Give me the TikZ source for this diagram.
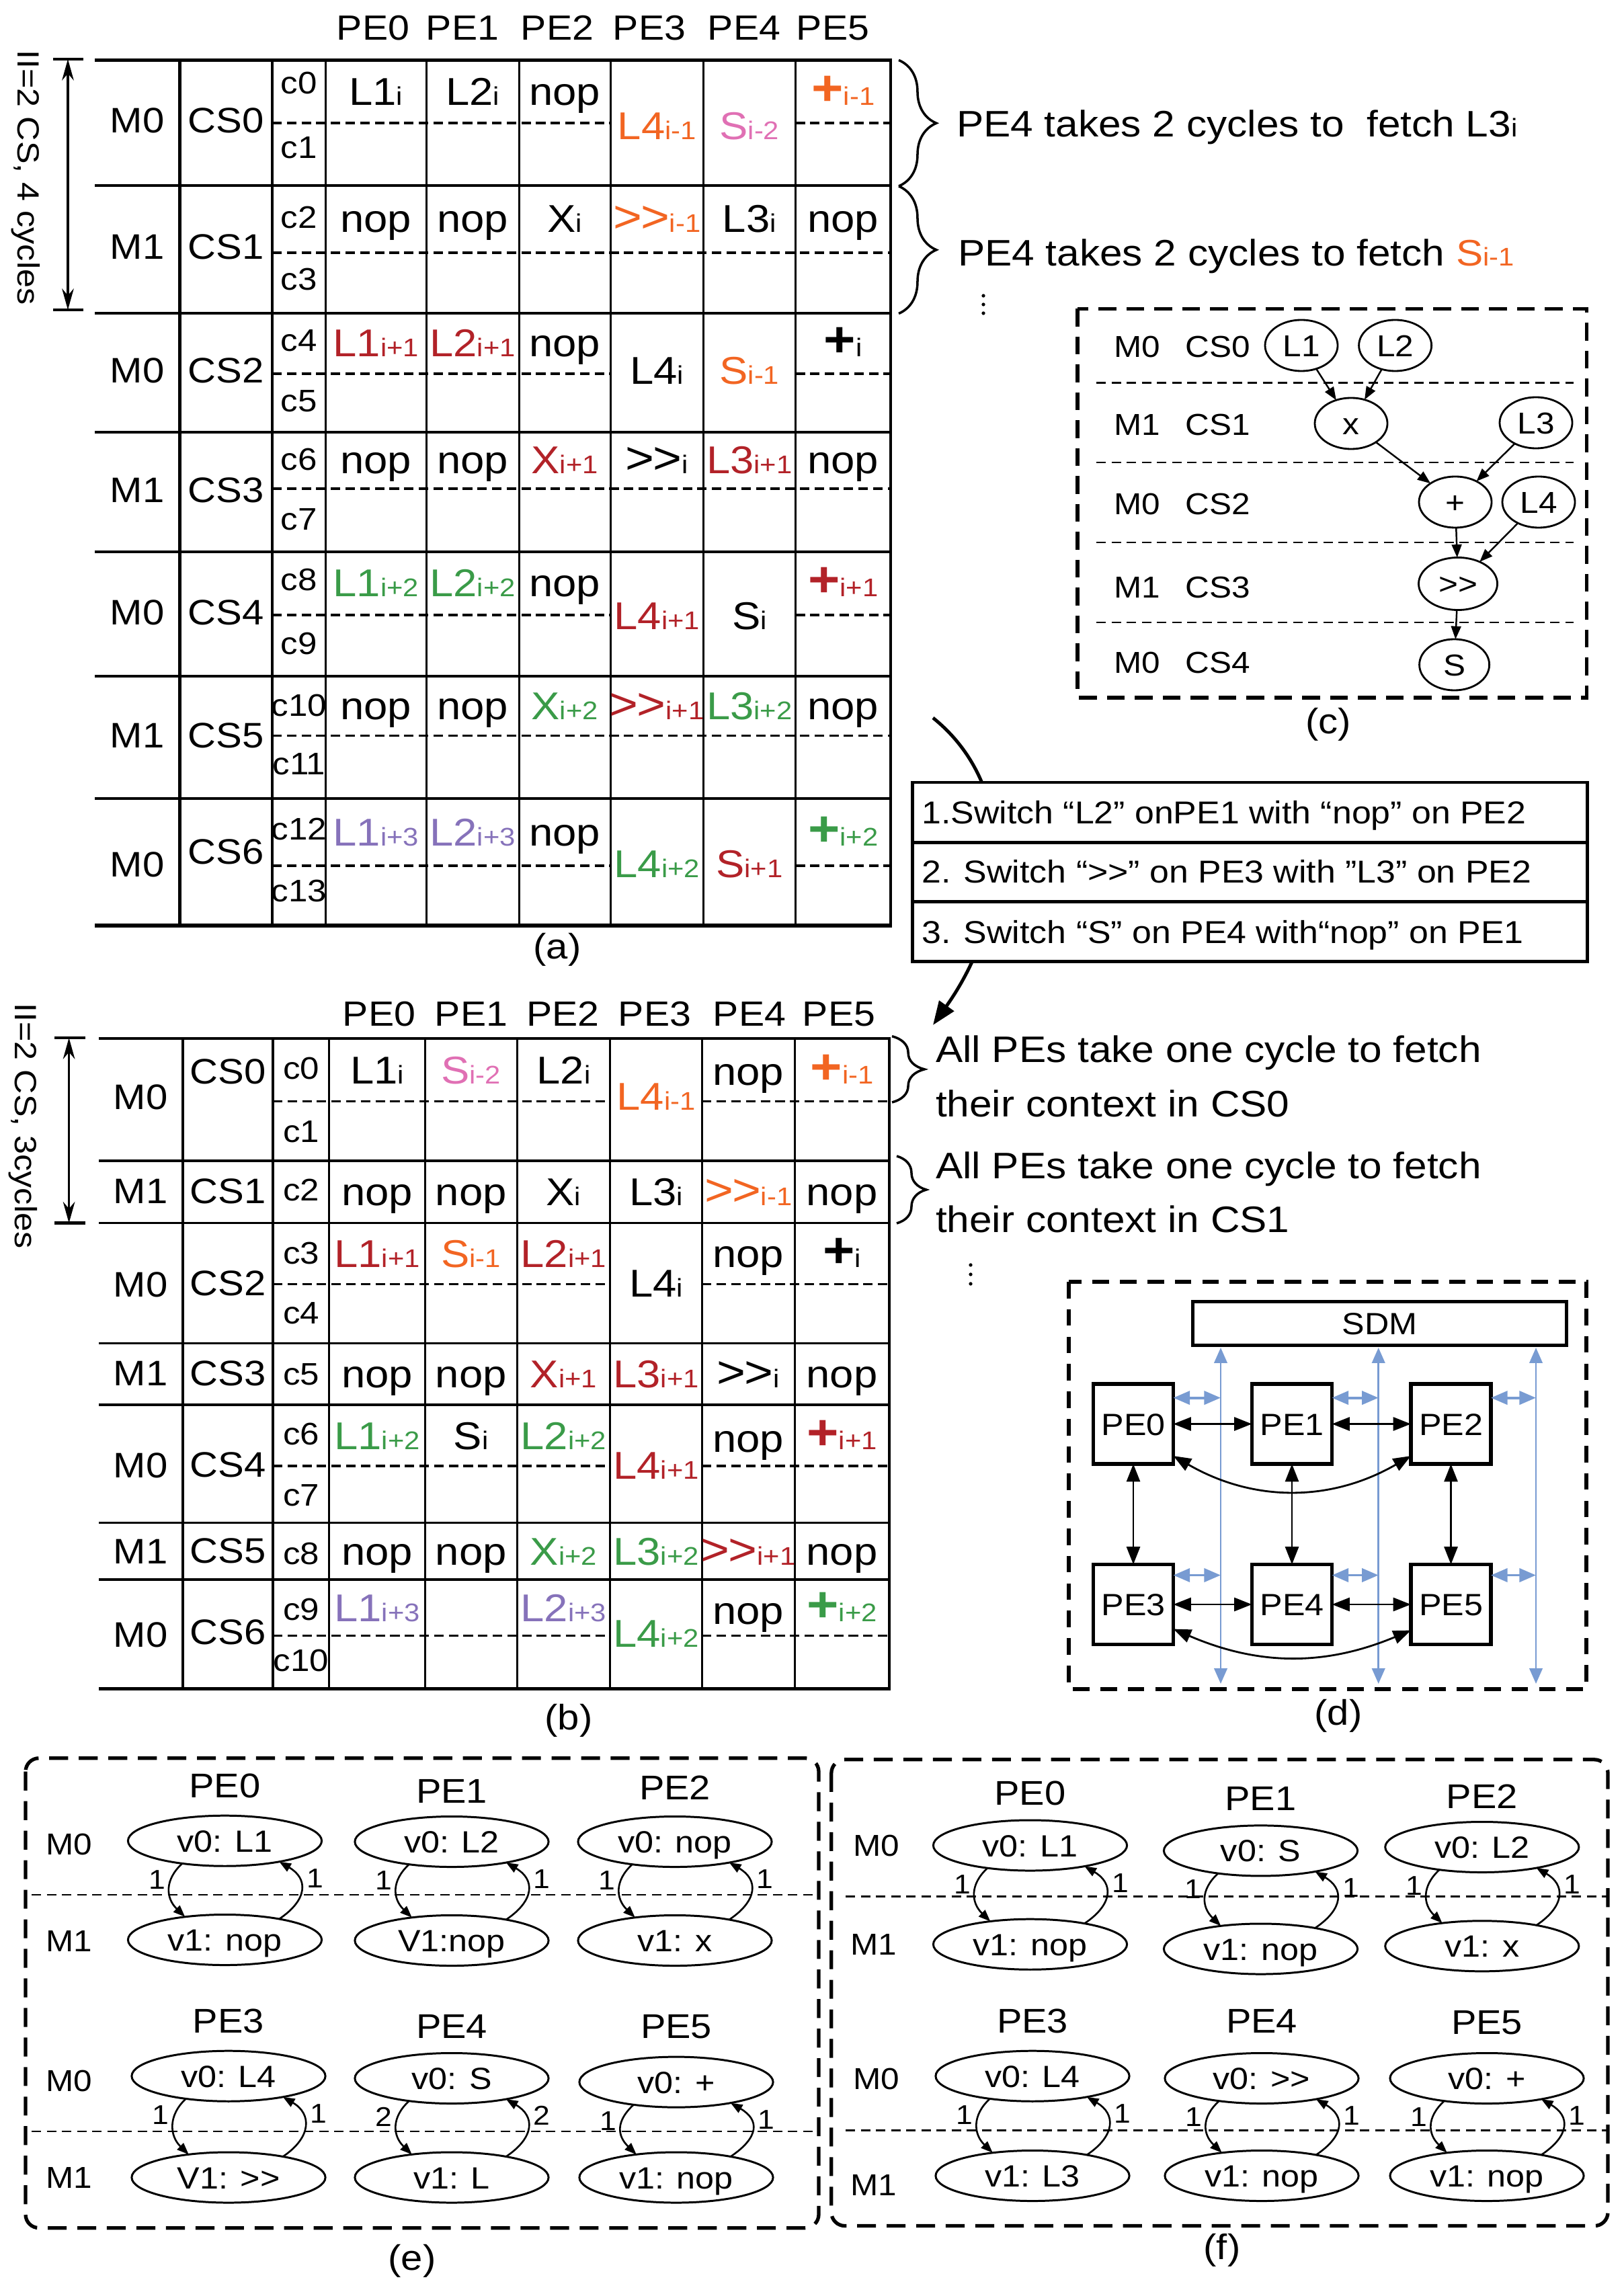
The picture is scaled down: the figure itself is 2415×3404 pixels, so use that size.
\documentclass[tikz,border=0pt]{standalone}
\usepackage{fontspec}
\setmainfont{Liberation Sans}[FakeStretch=1.1]
\usetikzlibrary{arrows.meta,decorations.pathreplacing,shapes.geometric,calc}
\definecolor{orgC}{RGB}{242,101,34}
\definecolor{pnkC}{RGB}{224,112,180}
\definecolor{redC}{RGB}{178,34,40}
\definecolor{grnC}{RGB}{58,155,72}
\definecolor{purC}{RGB}{134,114,186}
\definecolor{bluC}{RGB}{120,155,210}
\newcommand\fsz[1]{\fontsize{#1pt}{#1pt}\selectfont}
\newcommand\Ts[2]{#1{\fsz{10.8}#2}}
\newcommand\shr{>\kern0pt>}
\newcommand\shb{{\fsz{19}>\kern-0.6pt>}}
\newcommand\pls{{\fsz{21}\bfseries+}}
\newcommand\cA[5]{\node[cell,text=#4] (#1) at (#2,#3) {#5};}
\newcommand\pegrp[9]{%
  \node[ptitle] (#1t) at (#2,#3) {#6};
  \node[vell] (#1a) at (#2,#4) {#7};
  \node[vell] (#1b) at (#2,#5) {#8};
  \draw[varr] (#1a.208) .. controls ($(#1a.center)+(-90,58)$) and ($(#1b.center)+(-88,-62)$) .. (#1b.150);
  \draw[varr] (#1b.21) .. controls ($(#1b.center)+(124,-60)$) and ($(#1a.center)+(124,56)$) .. (#1a.-21);
  \node[vnum] (#1l) at ($(#1a.center)+(-101,57)$) {#9};
  \node[vnum] (#1r) at ($(#1a.center)+(134,55)$) {#9};
}
\tikzset{
  every node/.style={inner sep=0pt, outer sep=0pt},
  hdr/.style={anchor=base, font=\fsz{14.8}},
  mlbl/.style={anchor=base, font=\fsz{15}},
  clbl/.style={anchor=base, font=\fsz{13.2}},
  cell/.style={anchor=base, font=\fsz{16.4}},
  thk/.style={line width=1.4pt},
  mdl/.style={line width=1pt},
  thn/.style={line width=0.85pt},
  dsh/.style={line width=0.9pt, dash pattern=on 4pt off 2.2pt},
  dimarr/.style={line width=1pt, {Stealth[length=9pt,width=5pt]}-{Stealth[length=9pt,width=5pt]}},
  brc/.style={decorate, decoration={brace, amplitude=#1}, line width=1pt},
  ann/.style={anchor=base west, font=\fsz{15.6}},
  capt/.style={font=\fsz{15}, text height=0.39cm, text depth=0.1cm},
  cbox/.style={line width=1.6pt, dash pattern=on 7.5pt off 4.3pt},
  csep/.style={line width=0.8pt, dash pattern=on 4pt off 2.4pt},
  ctxt/.style={font=\fsz{12.8}, text height=0.32cm, text depth=0pt},
  cell2/.style={ellipse, draw, line width=0.8pt, minimum width=1.08cm, minimum height=0.76cm, font=\fsz{12.8}, text height=0.32cm, text depth=0pt},
  carr/.style={line width=0.7pt, -{Triangle[length=5.5pt,width=4.2pt]}},
  lbox/.style={draw, fill=white, line width=1.4pt, minimum width=10.03cm, minimum height=0.89cm},
  ltxt/.style={anchor=base west, font=\fsz{13.4}},
  pebox/.style={draw, line width=1.5pt, minimum width=1.19cm, minimum height=1.19cm, font=\fsz{13}, text height=0.33cm, text depth=0pt},
  barr/.style={line width=0.8pt, {Triangle[length=7.5pt,width=5.7pt]}-{Triangle[length=7.5pt,width=5.7pt]}},
  bluv/.style={bluC, line width=0.8pt, {Triangle[length=6.5pt,width=5.5pt]}-{Triangle[length=6.5pt,width=5.5pt]}},
  bluh/.style={bluC, line width=1.1pt, {Triangle[length=7pt,width=5.7pt]}-{Triangle[length=7pt,width=5.7pt]}},
  ebox/.style={line width=1.5pt, dash pattern=on 8pt off 4.5pt, rounded corners=0.2cm},
  ptitle/.style={font=\fsz{14.5}, text height=0.37cm, text depth=0pt},
  vell/.style={ellipse, draw, line width=0.85pt, minimum width=2.88cm, minimum height=0.75cm, font=\fsz{13}, text height=0.33cm, text depth=0pt},
  vnum/.style={font=\fsz{11.5}, text height=0.29cm, text depth=0pt},
  mlab/.style={font=\fsz{12.8}, text height=0.32cm, text depth=0pt},
  varr/.style={line width=0.75pt, -{Triangle[length=5pt,width=3.8pt]}}
}
\begin{document}
\begin{tikzpicture}[x=0.01cm,y=-0.01cm,font=\fsz{15}]
\useasboundingbox (0,0) rectangle (2415,3404);

% ================= (a) =================
\foreach \t/\x [count=\i from 0] in {PE0/555,PE1/688,PE2/829,PE3/966,PE4/1107,PE5/1239}
  \node[hdr] (ah\i) at (\x,60) {\t};
\node[font=\fsz{13}, rotate=-90] (aII) at (38,264) {II=2 CS, 4 cycles};
\coordinate (aArT) at (101,88);
\coordinate (aArB) at (101,461);
\draw[dimarr] (aArT) -- (aArB);
\draw[thk] (79,88) -- (124,88);
\draw[thk] (79,461) -- (124,461);
% rules
\draw[line width=1.4pt] (141,89.5) -- (1327,89.5);
\foreach \y in {276,466,643,821,1006,1188} \draw[mdl] (141,\y) -- (1325,\y);
\draw[line width=1.6pt] (141,1377) -- (1327,1377);
\foreach \x in {267.5,405} \draw[line width=1.3pt] (\x,89.5) -- (\x,1377);
\draw[mdl] (484.5,89.5) -- (484.5,1377);
\foreach \x in {634,772,908.5,1046,1183.6} \draw[thn] (\x,89.5) -- (\x,1377);
\draw[thk] (1325,89.5) -- (1325,1377);
\foreach \y in {376,727,1094.5} \draw[dsh] (405,\y) -- (1325,\y);
\foreach \y in {183,556,915,1288} {\draw[dsh] (405,\y) -- (908.5,\y); \draw[dsh] (1183.6,\y) -- (1325,\y);}
% row labels
\foreach \m/\c/\y/\z [count=\i from 0] in {M0/CS0/198/198,M1/CS1/386/386,M0/CS2/570/570,M1/CS3/748/748,M0/CS4/930/930,M1/CS5/1112/1112,M0/CS6/1304/1285}
  {\node[mlbl] (aM\i) at (204,\y) {\m}; \node[mlbl] (aC\i) at (336,\z) {\c};}
\foreach \y [count=\i from 0] in {140,236,340,432,523,613,700,789,879,973,1065,1152,1249,1341}
  \node[clbl] (ac\i) at (444.75,\y) {c\i};
% cells
\cA{a00}{559.25}{156.3}{black}{\Ts{L1}{i}}
\cA{a01}{703}{156.3}{black}{\Ts{L2}{i}}
\cA{a02}{840.25}{156.3}{black}{nop}
\cA{a03}{977.25}{208}{orgC}{\Ts{L4}{i-1}}
\cA{a04}{1114.8}{208}{pnkC}{\Ts{S}{i-2}}
\cA{a05}{1254.3}{156.3}{orgC}{\Ts{\pls}{i-1}}
\cA{a10}{559.25}{346}{black}{nop}
\cA{a11}{703}{346}{black}{nop}
\cA{a12}{840.25}{346}{black}{\Ts{X}{i}}
\cA{a13}{977.25}{346}{orgC}{\Ts{\shb}{i-1}}
\cA{a14}{1114.8}{346}{black}{\Ts{L3}{i}}
\cA{a15}{1254.3}{346}{black}{nop}
\cA{a20}{559.25}{531}{redC}{\Ts{L1}{i+1}}
\cA{a21}{703}{531}{redC}{\Ts{L2}{i+1}}
\cA{a22}{840.25}{531}{black}{nop}
\cA{a23}{977.25}{572}{black}{\Ts{L4}{i}}
\cA{a24}{1114.8}{572}{orgC}{\Ts{S}{i-1}}
\cA{a25}{1254.3}{531}{black}{\Ts{\pls}{i}}
\cA{a30}{559.25}{705}{black}{nop}
\cA{a31}{703}{705}{black}{nop}
\cA{a32}{840.25}{705}{redC}{\Ts{X}{i+1}}
\cA{a33}{977.25}{705}{black}{\Ts{\shb}{i}}
\cA{a34}{1114.8}{705}{redC}{\Ts{L3}{i+1}}
\cA{a35}{1254.3}{705}{black}{nop}
\cA{a40}{559.25}{888}{grnC}{\Ts{L1}{i+2}}
\cA{a41}{703}{888}{grnC}{\Ts{L2}{i+2}}
\cA{a42}{840.25}{888}{black}{nop}
\cA{a43}{977.25}{937}{redC}{\Ts{L4}{i+1}}
\cA{a44}{1114.8}{937}{black}{\Ts{S}{i}}
\cA{a45}{1254.3}{888}{redC}{\Ts{\pls}{i+1}}
\cA{a50}{559.25}{1070}{black}{nop}
\cA{a51}{703}{1070}{black}{nop}
\cA{a52}{840.25}{1070}{grnC}{\Ts{X}{i+2}}
\cA{a53}{977.25}{1070}{redC}{\Ts{\shb}{i+1}}
\cA{a54}{1114.8}{1070}{grnC}{\Ts{L3}{i+2}}
\cA{a55}{1254.3}{1070}{black}{nop}
\cA{a60}{559.25}{1258}{purC}{\Ts{L1}{i+3}}
\cA{a61}{703}{1258}{purC}{\Ts{L2}{i+3}}
\cA{a62}{840.25}{1258}{black}{nop}
\cA{a63}{977.25}{1305}{grnC}{\Ts{L4}{i+2}}
\cA{a64}{1114.8}{1305}{redC}{\Ts{S}{i+1}}
\cA{a65}{1254.3}{1258}{grnC}{\Ts{\pls}{i+2}}
\node[capt] (capA) at (829,1412) {(a)};
% annotations (a)
\draw[brc=15.9pt] (1337,89.5) -- (1337,277);
\draw[brc=15.9pt] (1337,277) -- (1337,466.5);
\node[ann] (annA1) at (1423,203.4) {PE4 takes 2 cycles to\ \ fetch \Ts{L3}{i}};
\node[ann] (annA2) at (1425,396) {PE4 takes 2 cycles to fetch {\color{orgC}\Ts{S}{i-1}}};
\foreach \y in {440,453,466} \fill (1463,\y) circle[radius=0.75pt];

% ================= (c) =================
\draw[cbox] (1603,459.5) rectangle (2360.5,1038);
\foreach \y in {569.6,688,807,926} \draw[csep] (1631,\y) -- (2341,\y);
\foreach \m/\c/\y [count=\i from 0] in {M0/CS0/515.6,M1/CS1/631,M0/CS2/749,M1/CS3/873,M0/CS4/985.6}
  {\node[ctxt] (cM\i) at (1692,\y) {\m}; \node[ctxt] (cC\i) at (1812,\y) {\c};}
\node[cell2] (cL1) at (1936,514) {L1};
\node[cell2] (cL2) at (2075.6,514) {L2};
\node[cell2] (cX) at (2010,630) {x};
\node[cell2] (cL3) at (2285,629) {L3};
\node[cell2] (cP) at (2165,747) {+};
\node[cell2] (cL4) at (2289,747) {L4};
\node[cell2, minimum width=1.17cm, minimum height=0.78cm] (cSh) at (2169,868.5) {\shr};
\node[cell2, minimum width=1.04cm] (cS) at (2163.6,989) {S};
\draw[carr] (cL1) -- (cX);
\draw[carr] (cL2) -- (cX);
\draw[carr] (cX) -- (cP);
\draw[carr] (cL3) -- (cP);
\draw[carr] (cP) -- (cSh);
\draw[carr] (cL4) -- (cSh);
\draw[carr] (cSh) -- (cS);
\node[capt] (capC) at (1976,1077) {(c)};

% ================= list box + arc =================
\coordinate (arcS) at (1388,1068);
\coordinate (arcE) at (1388,1525);
\draw[line width=1.4pt, -{Triangle[length=10pt,width=7.5pt]}] (arcS) .. controls (1515,1170) and (1505,1360) .. (arcE);
\node[lbox] (lb1) at (1859.4,1208.5) {};
\node[lbox] (lb2) at (1859.4,1297.8) {};
\node[lbox] (lb3) at (1859.4,1386.3) {};
\node[ltxt] (lt1) at (1371.5,1225) {1.Switch “L2” onPE1 with “nop” on PE2};
\node[ltxt] (lt2) at (1371.5,1313) {2. Switch “\shr” on PE3 with ”L3” on PE2};
\node[ltxt] (lt3) at (1371.5,1403) {3. Switch “S” on PE4 with“nop” on PE1};

% ================= (b) =================
\foreach \t/\x [count=\i from 0] in {PE0/564,PE1/701,PE2/837.6,PE3/974,PE4/1115,PE5/1248}
  \node[hdr] (bh\i) at (\x,1526) {\t};
\node[font=\fsz{13}, rotate=-90] (bII) at (34,1675) {II=2 CS, 3cycles};
\coordinate (bArT) at (102.6,1544);
\coordinate (bArB) at (102.6,1819.6);
\draw[dimarr] (bArT) -- (bArB);
\draw[thk] (81,1544) -- (126.5,1544);
\draw[thk] (81,1819.6) -- (126.5,1819.6);
\draw[line width=1.4pt] (147,1545) -- (1325,1545);
\foreach \y in {1727,1819.6,1998.7,2090,2265.6,2350} \draw[mdl] (147,\y) -- (1323,\y);
\draw[line width=1.6pt] (147,2512.4) -- (1325,2512.4);
\foreach \x in {271.8,406} \draw[line width=1.3pt] (\x,1545) -- (\x,2512.4);
\draw[mdl] (489.7,1545) -- (489.7,2512.4);
\foreach \x in {632.5,769,907.7,1044.4,1182} \draw[thn] (\x,1545) -- (\x,2512.4);
\draw[thk] (1323,1545) -- (1323,2512.4);
\foreach \y in {1638.6,1910.7,2181,2433.6} {\draw[dsh] (406,\y) -- (907.7,\y); \draw[dsh] (1044.4,\y) -- (1323,\y);}
\foreach \m/\c/\y/\z [count=\i from 0] in {M0/CS0/1650/1612,M1/CS1/1790/1790,M0/CS2/1929/1927,M1/CS3/2061/2061,M0/CS4/2198/2197,M1/CS5/2326/2325,M0/CS6/2450/2446}
  {\node[mlbl] (bM\i) at (209,\y) {\m}; \node[mlbl] (bC\i) at (339,\z) {\c};}
\foreach \y [count=\i from 0] in {1605,1699,1786,1880,1969,2060,2149,2240,2327,2410,2486}
  \node[clbl] (bc\i) at (448,\y) {c\i};
\cA{b00}{561.1}{1612}{black}{\Ts{L1}{i}}
\cA{b01}{700.75}{1612}{pnkC}{\Ts{S}{i-2}}
\cA{b02}{838.35}{1612}{black}{\Ts{L2}{i}}
\cA{b03}{976}{1651}{orgC}{\Ts{L4}{i-1}}
\cA{b04}{1113.2}{1614}{black}{nop}
\cA{b05}{1252.5}{1612}{orgC}{\Ts{\pls}{i-1}}
\cA{b10}{561.1}{1793}{black}{nop}
\cA{b11}{700.75}{1793}{black}{nop}
\cA{b12}{838.35}{1793}{black}{\Ts{X}{i}}
\cA{b13}{976}{1793}{black}{\Ts{L3}{i}}
\cA{b14}{1113.2}{1793}{orgC}{\Ts{\shb}{i-1}}
\cA{b15}{1252.5}{1793}{black}{nop}
\cA{b20}{561.1}{1885}{redC}{\Ts{L1}{i+1}}
\cA{b21}{700.75}{1885}{orgC}{\Ts{S}{i-1}}
\cA{b22}{838.35}{1885}{redC}{\Ts{L2}{i+1}}
\cA{b23}{976}{1929}{black}{\Ts{L4}{i}}
\cA{b24}{1113.2}{1885}{black}{nop}
\cA{b25}{1252.5}{1885}{black}{\Ts{\pls}{i}}
\cA{b30}{561.1}{2064}{black}{nop}
\cA{b31}{700.75}{2064}{black}{nop}
\cA{b32}{838.35}{2064}{redC}{\Ts{X}{i+1}}
\cA{b33}{976}{2064}{redC}{\Ts{L3}{i+1}}
\cA{b34}{1113.2}{2064}{black}{\Ts{\shb}{i}}
\cA{b35}{1252.5}{2064}{black}{nop}
\cA{b40}{561.1}{2156}{grnC}{\Ts{L1}{i+2}}
\cA{b41}{700.75}{2156}{black}{\Ts{S}{i}}
\cA{b42}{838.35}{2156}{grnC}{\Ts{L2}{i+2}}
\cA{b43}{976}{2200}{redC}{\Ts{L4}{i+1}}
\cA{b44}{1113.2}{2160}{black}{nop}
\cA{b45}{1252.5}{2156}{redC}{\Ts{\pls}{i+1}}
\cA{b50}{561.1}{2328}{black}{nop}
\cA{b51}{700.75}{2328}{black}{nop}
\cA{b52}{838.35}{2328}{grnC}{\Ts{X}{i+2}}
\cA{b53}{976}{2328}{grnC}{\Ts{L3}{i+2}}
\cA{b54}{1113.2}{2328}{redC}{\Ts{\shb}{i+1}}
\cA{b55}{1252.5}{2328}{black}{nop}
\cA{b60}{561.1}{2412}{purC}{\Ts{L1}{i+3}}
\cA{b62}{838.35}{2412}{purC}{\Ts{L2}{i+3}}
\cA{b63}{976}{2450}{grnC}{\Ts{L4}{i+2}}
\cA{b64}{1113.2}{2416}{black}{nop}
\cA{b65}{1252.5}{2412}{grnC}{\Ts{\pls}{i+2}}
\node[capt] (capB) at (846,2558.6) {(b)};
% annotations (b)
\draw[brc=13.7pt] (1327,1541.7) -- (1327,1640);
\draw[brc=12.5pt] (1334,1720) -- (1334,1820);
\node[ann] (annB1) at (1392,1580) {All PEs take one cycle to fetch};
\node[ann] (annB2) at (1392,1661.7) {their context in CS0};
\node[ann] (annB3) at (1392,1753) {All PEs take one cycle to fetch};
\node[ann] (annB4) at (1392,1833) {their context in CS1};
\foreach \y in {1882,1896,1910} \fill (1444,\y) circle[radius=0.75pt];

% ================= (d) =================
\draw[line width=1.7pt, dash pattern=on 7pt off 4.6pt] (1590,1906.9) rectangle (2360.4,2512.7);
\node[pebox, minimum width=5.56cm, minimum height=0.65cm] (SDM) at (2052.3,1968.7) {SDM};
\node[pebox] (d0) at (1686,2118.5) {PE0};
\node[pebox] (d1) at (1922,2118.5) {PE1};
\node[pebox] (d2) at (2158.5,2118.5) {PE2};
\node[pebox] (d3) at (1686,2387) {PE3};
\node[pebox] (d4) at (1922,2387) {PE4};
\node[pebox] (d5) at (2158.5,2387) {PE5};
\foreach \x [count=\i] in {1816,2050.7,2285} {
  \coordinate (bt\i) at (\x,2005);
  \coordinate (bb\i) at (\x,2505);
  \draw[bluv] (bt\i) -- (bb\i);
  \coordinate (hu\i) at (\x,2079.6);
  \coordinate (hl\i) at (\x,2343.5);
}
\draw[bluh] (d0.east |- hu1) -- (hu1);
\draw[bluh] (d1.east |- hu2) -- (hu2);
\draw[bluh] (d2.east |- hu3) -- (hu3);
\draw[bluh] (d3.east |- hl1) -- (hl1);
\draw[bluh] (d4.east |- hl2) -- (hl2);
\draw[bluh] (d5.east |- hl3) -- (hl3);
\draw[barr] (d0) -- (d1);
\draw[barr] (d1) -- (d2);
\draw[barr] (d3) -- (d4);
\draw[barr] (d4) -- (d5);
\draw[barr] (d0) -- (d3);
\draw[barr] (d1) -- (d4);
\draw[barr] (d2) -- (d5);
\draw[barr] ($(d0.south east)+(0,-12)$) to[bend right=30] ($(d2.south west)+(0,-12)$);
\draw[barr] ($(d3.south east)+(0,-23)$) to[bend right=23] ($(d5.south west)+(0,-21)$);
\node[capt] (capD) at (1991,2552) {(d)};

% ================= (e) =================
\draw[ebox] (38,2615.7) rectangle (1218,3314.6);
\draw[csep] (47,2819) -- (1210,2819);
\draw[csep] (47,3171) -- (1210,3171);
\node[mlab] (eM0) at (103,2743) {M0};
\node[mlab] (eM1) at (103,2887) {M1};
\node[mlab] (eM2) at (103,3095) {M0};
\node[mlab] (eM3) at (103,3239.5) {M1};
\pegrp{e0}{334.5}{2656}{2738.7}{2886}{PE0}{v0: L1}{v1: nop}{1}
\pegrp{e1}{672}{2664}{2740}{2887}{PE1}{v0: L2}{V1:nop}{1}
\pegrp{e2}{1004}{2659}{2740}{2887}{PE2}{v0: nop}{v1: x}{1}
\pegrp{e3}{340}{3005.6}{3088.7}{3239.5}{PE3}{v0: L4}{V1: \shr}{1}
\pegrp{e4}{672}{3013.5}{3092}{3239.5}{PE4}{v0: S}{v1: L}{2}
\pegrp{e5}{1006}{3013.5}{3097.6}{3239.5}{PE5}{v0: +}{v1: nop}{1}
\node[capt] (capE) at (613,3363) {(e)};

% ================= (f) =================
\draw[ebox] (1236.8,2617.8) rectangle (2392,3311.5);
\draw[csep] (1258,2821.7) -- (2390,2821.7);
\draw[csep] (1258,3169.6) -- (2390,3169.6);
\node[mlab] (fM0) at (1303.8,2745.5) {M0};
\node[mlab] (fM1) at (1300,2892.7) {M1};
\node[mlab] (fM2) at (1303.8,3092.4) {M0};
\node[mlab] (fM3) at (1300,3250) {M1};
\pegrp{f0}{1532.5}{2666.7}{2745.5}{2892.7}{PE0}{v0: L1}{v1: nop}{1}
\pegrp{f1}{1875.5}{2674.6}{2753.4}{2899.5}{PE1}{v0: S}{v1: nop}{1}
\pegrp{f2}{2204.8}{2672}{2748}{2895.3}{PE2}{v0: L2}{v1: x}{1}
\pegrp{f3}{1536}{3005.6}{3088.7}{3237}{PE3}{v0: L4}{v1: L3}{1}
\pegrp{f4}{1877}{3005.6}{3092}{3237}{PE4}{v0: \shr}{v1: nop}{1}
\pegrp{f5}{2212}{3008}{3092}{3237}{PE5}{v0: +}{v1: nop}{1}
\node[capt] (capF) at (1818,3347) {(f)};
\end{tikzpicture}
\end{document}
